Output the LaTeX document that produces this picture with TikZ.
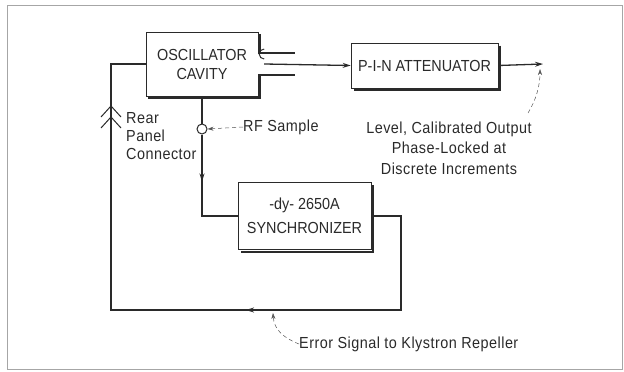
\documentclass[tikz,border=0pt]{standalone}
\usepackage{fontspec}
\setmainfont{Liberation Sans}[FakeStretch=0.9]
\newfontfamily\lblfont{Liberation Sans}[FakeStretch=0.9, LetterSpace=3]
\usetikzlibrary{arrows.meta,calc}
\definecolor{ink}{HTML}{2A2A2A}
\begin{document}
\begin{tikzpicture}[x=1pt, y=-1pt,
    every node/.style={text=ink, font=\fontsize{16}{19}\selectfont},
    block/.style={draw=ink, line width=0.6pt, fill=white, inner sep=0pt},
    label/.style={inner sep=0pt, font=\lblfont\fontsize{16}{18}\selectfont},
    shadowline/.style={draw=ink, line width=2pt},
    wire/.style={draw=ink, line width=1.3pt},
    tip/.style={-{Stealth[length=8pt, width=5pt]}},
    pointer/.style={draw=ink!80, line width=0.5pt, dash pattern=on 4pt off 3pt, -{Stealth[length=6pt, width=4pt]}}]

  % Marco
  \draw[gray!70, line width=0.8pt] (7,5) rectangle (622,369);

  % Cavidad del oscilador
  \node (cav) at (202,64) [minimum width=112pt, minimum height=64pt, inner sep=0pt, align=center] {OSCILLATOR\\CAVITY};
  \coordinate (gtop) at ($(cav.east)+(0,-11)$);
  \coordinate (gbot) at ($(cav.east)+(0,11)$);
  \draw[shadowline] ($(cav.north east)+(2,2)$) -- ($(gtop)+(2,0)$);
  \draw[shadowline] ($(gbot)+(2,0)$) |- ($(cav.south west)+(2,2)$);
  \draw[draw=ink, line width=0.6pt] (gtop) |- (cav.north west) |- (cav.south east) -- (gbot);
  \draw[draw=ink, line width=1.2pt] (gtop) -- ++(37,0);
  \draw[draw=ink, line width=1.2pt] (gbot) -- ++(37,0);
  \coordinate (loop) at ($(cav.east)+(6,0)$);
  \draw[draw=ink, line width=1pt] ($(loop)+(0,-5)$) arc[start angle=-90, end angle=-270, radius=5pt];

  % Atenuador
  \node[block, minimum width=147pt, minimum height=45pt] (pin) at (424.5,65.5) {P-I-N ATTENUATOR};
  \draw[shadowline] ($(pin.north east)+(2,3)$) |- ($(pin.south west)+(3,2)$);
  \node[block, minimum width=147pt, minimum height=45pt] at (pin) {P-I-N ATTENUATOR};
  \coordinate (out) at (543,64);

  % Muestra RF
  \node[draw=ink, line width=1pt, circle, minimum size=10pt, inner sep=0pt] (smp) at (202,129) {};

  % Sincronizador
  \node[block, minimum width=133pt, minimum height=67pt, align=center] (sync) at (304.5,216) {};
  \draw[shadowline] ($(sync.north east)+(2,3)$) |- ($(sync.south west)+(3,2)$);
  \node[block, minimum width=133pt, minimum height=67pt, align=center, font=\fontsize{16}{24}\selectfont] at (sync) {-dy- 2650A\\SYNCHRONIZER};

  % Lazo de realimentacion
  \coordinate (r1) at (401,216);
  \coordinate (r2) at (401,310);
  \coordinate (l1) at (111,310);
  \coordinate (l2) at (111,64);

  % Aristas
  \draw[wire, tip] (loop) -- (pin.west);
  \draw[wire, tip] (pin.east) -- (out);
  \draw[wire] (cav.south) -- (smp.north);
  \draw[wire, tip] (smp.south) -- ($(smp.south)+(0,47)$);
  \draw[wire] (smp.south) |- (sync.west);
  \draw[wire] (sync.east) -- (r1) -- (r2) -- (l1) -- (l2) -- (cav.west);
  \draw[wire, tip] (r2) -- (246,310);

  % Conector del panel trasero
  \draw[draw=ink, line width=1pt] (101,117) -- (111,106) -- (121,117);
  \draw[draw=ink, line width=1pt] (101,128) -- (111,117) -- (121,128);

  % Etiquetas
  \node[label, anchor=north west, align=left] (rear) at (126,112) {Rear\\Panel\\Connector};
  \node[label, anchor=west] (rf) at (243,127) {RF Sample};
  \node[label, align=center, font=\lblfont\fontsize{16}{20.5}\selectfont] (lvl) at (449,148) {Level, Calibrated Output\\Phase-Locked at\\Discrete Increments};
  \node[label, anchor=west] (err) at (299,344) {Error Signal to Klystron Repeller};

  % Flechas indicadoras
  \draw[pointer] (rf.west) -- (smp.east);
  \draw[pointer] (528,113) .. controls (536,100) and (540,86) .. (540,69);
  \draw[pointer] (err.west) .. controls (284,338) and (274,330) .. (273,313);

  \useasboundingbox (0,0) rectangle (624,372);
\end{tikzpicture}
\end{document}
